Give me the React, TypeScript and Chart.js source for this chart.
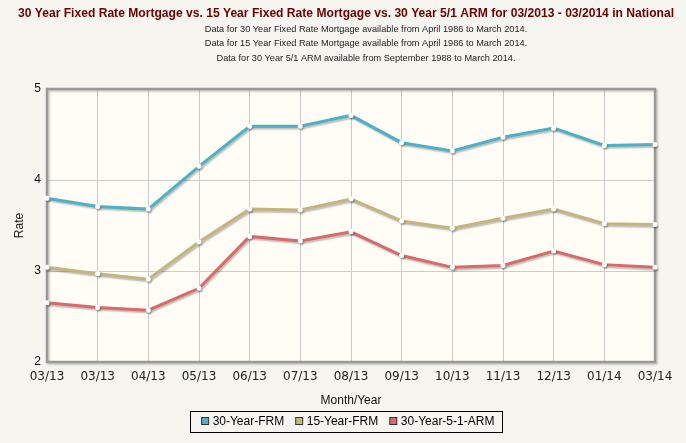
import { useEffect, useRef } from "react";
import { Chart, registerables } from "chart.js";

Chart.register(...registerables);

const categories = ["03/13", "03/13", "04/13", "05/13", "06/13", "07/13", "08/13", "09/13", "10/13", "11/13", "12/13", "01/14", "03/14"];
const frm30 = [3.8, 3.71, 3.68, 4.15, 4.59, 4.59, 4.71, 4.41, 4.32, 4.47, 4.57, 4.38, 4.39];
const frm15 = [3.04, 2.97, 2.91, 3.32, 3.68, 3.67, 3.79, 3.55, 3.47, 3.58, 3.68, 3.52, 3.51];
const arm51 = [2.65, 2.6, 2.57, 2.81, 3.38, 3.33, 3.43, 3.17, 3.04, 3.06, 3.22, 3.07, 3.04];
const seriesNames = ["30-Year-FRM", "15-Year-FRM", "30-Year-5-1-ARM"];
const seriesColors = ["#4bb2c5", "#c5b47f", "#d9696b"];
const yMin = 2;
const yMax = 5;
const yStep = 1;
const titleText =
  "30 Year Fixed Rate Mortgage vs. 15 Year Fixed Rate Mortgage vs. 30 Year 5/1 ARM for 03/2013 - 03/2014 in National";
const subtitleLines = [
  "Data for 30 Year Fixed Rate Mortgage available from April 1986 to March 2014.",
  "Data for 15 Year Fixed Rate Mortgage available from April 1986 to March 2014.",
  "Data for 30 Year 5/1 ARM available from September 1988 to March 2014.",
];
const xTitle = "Month/Year";
const yTitle = "Rate";

const PAGE_BG = "#f7f5f0";
const PLOT_BG = "#fffdf6";
const SANS = "'Liberation Sans', Arial, sans-serif";

const decorPlugin = {
  id: "decorPlugin",
  beforeDraw(chart: any) {
    const { ctx, chartArea } = chart;
    ctx.save();
    ctx.fillStyle = PAGE_BG;
    ctx.fillRect(0, 0, chart.width, chart.height);
    ctx.fillStyle = PLOT_BG;
    ctx.fillRect(chartArea.left, chartArea.top, chartArea.right - chartArea.left, chartArea.bottom - chartArea.top);
    ctx.restore();
  },
  beforeDatasetsDraw(chart: any) {
    const { ctx, chartArea } = chart;
    ctx.save();
    ctx.shadowColor = "rgba(0,0,0,0.22)";
    ctx.shadowOffsetX = 1.5;
    ctx.shadowOffsetY = 1.5;
    ctx.shadowBlur = 2;
    ctx.strokeStyle = "#999999";
    ctx.lineWidth = 2.5;
    ctx.strokeRect(chartArea.left, chartArea.top, chartArea.right - chartArea.left, chartArea.bottom - chartArea.top);
    ctx.restore();
  },
  beforeDatasetDraw(chart: any) {
    const ctx = chart.ctx;
    ctx.save();
    ctx.shadowColor = "rgba(0,0,0,0.25)";
    ctx.shadowOffsetX = 1.2;
    ctx.shadowOffsetY = 1.8;
    ctx.shadowBlur = 1.5;
  },
  afterDatasetDraw(chart: any) {
    chart.ctx.restore();
  },
  afterDraw(chart: any) {
    const ctx = chart.ctx;
    ctx.save();
    // Title
    ctx.textAlign = "center";
    ctx.textBaseline = "middle";
    ctx.fillStyle = "#6b0000";
    ctx.font = `bold 12.1px ${SANS}`;
    ctx.fillText(titleText, 346, 13.5);
    // Subtitles
    ctx.fillStyle = "#222222";
    ctx.font = `9.2px ${SANS}`;
    subtitleLines.forEach((line, i) => {
      ctx.fillText(line, 366, 29 + i * 14.7);
    });
    // Legend
    ctx.font = `12px ${SANS}`;
    const marker = 7;
    const gap = 4;
    const itemGap = 11.5;
    const widths = seriesNames.map((n) => ctx.measureText(n).width);
    const total = widths.reduce((a, w) => a + marker + gap + w, 0) + itemGap * (seriesNames.length - 1);
    const cx = 348;
    const cy = 421;
    let x = cx - total / 2;
    const startX = x;
    ctx.textAlign = "left";
    seriesNames.forEach((n, i) => {
      ctx.fillStyle = seriesColors[i];
      ctx.fillRect(x, cy - marker / 2, marker, marker);
      ctx.strokeStyle = "#333333";
      ctx.lineWidth = 1;
      ctx.strokeRect(x, cy - marker / 2, marker, marker);
      ctx.fillStyle = "#000000";
      ctx.fillText(n, x + marker + gap, cy + 0.5);
      x += marker + gap + widths[i] + itemGap;
    });
    const endX = x - itemGap;
    ctx.strokeStyle = "#000000";
    ctx.lineWidth = 1;
    ctx.strokeRect(Math.round(startX - 12) + 0.5, Math.round(cy - 10.5) + 0.5, Math.round(endX - startX + 19), 21);
    ctx.restore();
  },
};

export default function App() {
  const ref = useRef<HTMLCanvasElement | null>(null);

  useEffect(() => {
    document.body.style.margin = "0";
    document.body.style.background = PAGE_BG;
    const canvas = ref.current;
    if (!canvas) return;
    const dataSets = [frm30, frm15, arm51];
    const chart = new Chart(canvas, {
      type: "line",
      data: {
        labels: categories,
        datasets: dataSets.map((d, i) => ({
          label: seriesNames[i],
          data: d,
          borderColor: seriesColors[i],
          backgroundColor: seriesColors[i],
          borderWidth: 3,
          pointRadius: 2.5,
          pointBorderWidth: 0,
          pointBackgroundColor: "#ffffff",
          pointBorderColor: "#ffffff",
          tension: 0,
          fill: false,
        })),
      },
      options: {
        responsive: false,
        animation: false,
        devicePixelRatio: 1,
        layout: { padding: { left: 12, right: 31, top: 89, bottom: 35 } },
        plugins: {
          title: { display: false },
          subtitle: { display: false },
          legend: { display: false },
          tooltip: { enabled: false },
        },
        scales: {
          x: {
            type: "category",
            offset: false,
            grid: { color: "#cccccc", lineWidth: 1, drawTicks: false },
            border: { display: false },
            afterFit: (s: any) => {
              s.height = 46;
            },
            ticks: {
              color: "#222",
              font: { family: "'DejaVu Sans', Verdana, sans-serif", size: 12 },
              padding: 8,
              maxRotation: 0,
              autoSkip: false,
            },
            title: {
              display: true,
              text: xTitle,
              color: "#111",
              font: { family: SANS, size: 12 },
              padding: { top: 0, bottom: 0 },
            },
          },
          y: {
            min: yMin,
            max: yMax,
            grid: { color: "#cccccc", lineWidth: 1, drawTicks: false },
            border: { display: false },
            afterFit: (s: any) => {
              s.width = 35;
            },
            ticks: {
              stepSize: yStep,
              color: "#111",
              font: { family: SANS, size: 12 },
              padding: 6,
            },
            title: {
              display: true,
              text: yTitle,
              color: "#111",
              font: { family: SANS, size: 12 },
              padding: { top: 0, bottom: 0 },
            },
          },
        },
      },
      plugins: [decorPlugin],
    } as any);
    return () => chart.destroy();
  }, []);

  return (
    <div style={{ width: 686, height: 443, background: PAGE_BG }}>
      <canvas ref={ref} width={686} height={443} style={{ display: "block" }} />
    </div>
  );
}
